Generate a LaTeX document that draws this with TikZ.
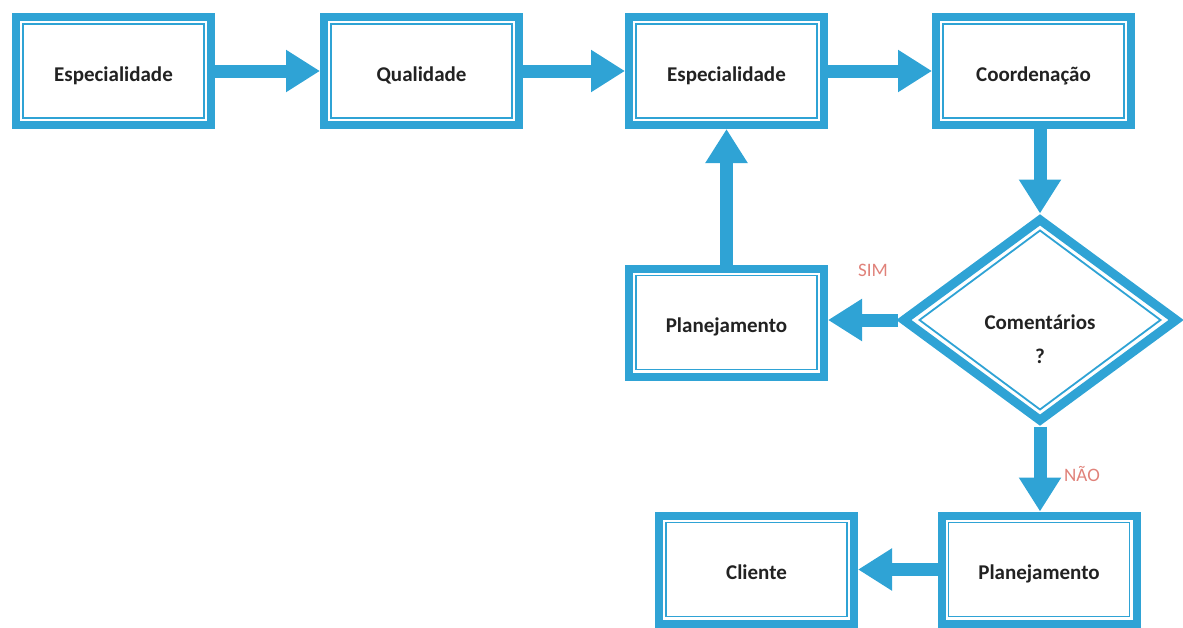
\documentclass[tikz,border=0pt]{standalone}
\usepackage{fontspec}
\setmainfont{Carlito}
\usetikzlibrary{arrows.meta,shapes.geometric}
\definecolor{fblue}{HTML}{2FA3D5}
\definecolor{flabel}{HTML}{E0827A}
\definecolor{ftext}{HTML}{222222}
\tikzset{
  stepbox/.style={draw=fblue, line width=8pt, fill=white, minimum width=195pt, minimum height=108pt, inner sep=0pt, text height=20pt, text depth=0pt, font=\fontsize{21}{24}\selectfont\bfseries, text=ftext},
  decision/.style={draw=fblue, line width=9pt, fill=white, diamond, minimum width=276pt, minimum height=204pt, inner sep=0pt, align=center, font=\fontsize{21}{34}\selectfont\bfseries, text=ftext},
  innerline/.style={draw=fblue, line width=1.8pt},
  flow/.style={draw=fblue, line width=13pt, -{Triangle[width=40pt,length=34pt]}},
  lbl/.style={text=flabel, font=\fontsize{19}{21}\selectfont}
}
\begin{document}
\begin{tikzpicture}[x=1pt,y=-1pt]
\useasboundingbox (0,0) rectangle (1183,627);
\node[stepbox] (e1) at (113.5,71) {Especialidade};
\node[stepbox] (q) at (421.5,71) {Qualidade};
\node[stepbox] (e2) at (726.5,71) {Especialidade};
\node[stepbox] (c) at (1033.5,71) {Coordenação};
\node[stepbox] (p1) at (726.5,322.5) {Planejamento};
\node[decision] (d) at (1040,320) {\raisebox{-20pt}[\height][\depth]{\begin{tabular}{@{}c@{}}Comentários\\?\end{tabular}}};
\node[stepbox] (p2) at (1039,569.5) {Planejamento};
\node[stepbox] (cl) at (756.5,569.5) {Cliente};
\foreach \n in {e1,q,e2,c,p1,p2,cl}{
  \draw[innerline] ([shift={(11pt,-11pt)}]\n.north west) rectangle ([shift={(-11pt,11pt)}]\n.south east);
}
\draw[innerline] ([yshift=-17pt]d.north) -- ([xshift=-22pt]d.east) -- ([yshift=17pt]d.south) -- ([xshift=22pt]d.west) -- cycle;
\draw[flow] (e1.east) -- (q.west);
\draw[flow] (q.east) -- (e2.west);
\draw[flow] (e2.east) -- (c.west);
\draw[flow] (c.south -| d.north) -- (d.north);
\draw[flow] (d.west) -- (d.west -| p1.east);
\draw[flow] (p1.north) -- (e2.south);
\draw[flow] (d.south) -- (d.south |- p2.north);
\draw[flow] (p2.west) -- (cl.east);
\node[lbl] (sim) at (873,270) {SIM};
\node[lbl] (nao) at (1082,474) {NÃO};
\end{tikzpicture}
\end{document}
